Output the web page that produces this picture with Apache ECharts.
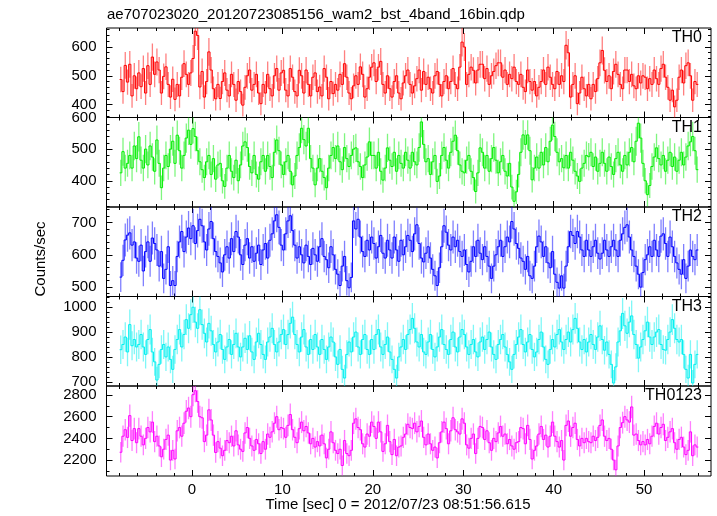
<!DOCTYPE html>
<html>
<head>
<meta charset="utf-8">
<script src="https://cdn.jsdelivr.net/npm/echarts@6/dist/echarts.min.js"></script>
<style>html,body{margin:0;padding:0;background:#fff}#c{width:717px;height:516px}</style>
</head>
<body>
<div id="c"></div>
<script>
// ---- data (counts/sec, 0.25 s bins starting at t = -8 s) ----
const tStart = -8;
const binWidth = 0.25;
const panelNames = ["TH0", "TH1", "TH2", "TH3", "TH0123"];
const titleText = "ae707023020_20120723085156_wam2_bst_4band_16bin.qdp";
const xTitle = "Time [sec] 0 = 2012/07/23 08:51:56.615";
const yTitle = "Counts/sec";

const th0 = [
487,445,536,478,540,430,500,455, 510,462,525,440,535,470,565,505,
548,520,440,498,531,470,426,488, 418,470,430,495,542,505,470,510,
560,655,640,461,515,426,480,583, 520,455,420,470,421,480,510,450,
430,505,470,415,480,445,398,460, 500,520,450,470,505,440,403,470,
440,505,455,430,500,525,450,510, 519,450,430,525,495,445,430,519,
500,440,520,470,430,495,510,445, 461,430,525,495,420,480,438,470,
450,505,470,542,495,440,420,465, 500,470,531,505,426,455,495,530,
545,480,530,550,470,440,500,455, 426,480,500,440,420,475,500,520,
470,440,465,490,520,450,515,470, 495,455,440,500,515,470,430,480,
500,455,480,525,470,455,530,617, 600,470,505,530,519,475,520,540,
540,490,525,470,500,515,535,545, 545,495,520,470,505,490,530,480,
470,505,460,445,520,480,450,480, 430,460,480,520,470,530,495,470,
455,515,470,500,480,606,580,426, 470,500,403,440,495,455,430,470,
420,470,445,490,545,588,519,480, 500,455,515,540,505,470,455,520,
520,480,505,465,455,500,475,500, 495,455,490,470,520,490,470,525,
540,495,460,415,450,392,415,495, 520,475,535,545,500,415,480,470];

const th1 = [
425,492,440,455,480,440,510,470, 539,465,440,500,450,510,475,430,
529,455,378,440,480,445,500,525, 455,544,495,440,480,535,560,515,
565,540,495,460,435,410,460,480, 420,470,405,450,455,400,382,440,
480,430,410,465,400,450,510,523, 505,445,425,480,420,405,460,480,
430,480,445,410,490,529,495,450, 420,460,480,430,387,415,480,505,
566,530,510,566,470,440,387,440, 470,430,410,378,440,480,505,470,
510,460,435,505,470,445,480,500, 504,460,445,410,450,475,523,480,
480,440,490,430,402,440,504,465, 445,490,430,480,455,440,490,465,
440,490,460,450,505,586,515,460, 470,420,460,480,398,415,480,505,
465,440,490,525,544,495,450,430, 425,465,480,430,410,366,425,504,
490,440,480,430,470,505,465,425, 460,480,430,415,455,380,335,365,
420,490,545,515,545,495,403,440, 475,440,490,450,505,460,525,576,
540,490,460,470,441,480,440,490, 465,430,415,398,440,455,480,476,
490,445,475,430,455,490,455,430, 475,445,420,470,490,450,430,480,
450,490,505,460,525,582,535,455, 400,356,385,445,475,504,470,450,
480,430,465,490,445,475,430,465, 490,450,475,510,523,540,495,435];

const th2 = [
531,583,646,661,668,630,640,590, 580,630,550,610,640,580,652,635,
615,565,610,527,555,625,505,520, 505,595,640,672,610,655,683,650,
690,635,675,710,690,640,615,680, 703,650,610,595,575,547,600,625,
590,650,610,672,655,600,570,630, 650,590,625,580,605,630,570,615,
635,590,645,665,705,724,685,630, 615,665,705,721,675,630,590,625,
600,575,630,595,570,620,600,580, 625,650,595,585,560,625,600,555,
540,505,565,595,520,498,530,705, 680,710,655,610,595,645,615,655,
635,590,625,660,605,590,645,615, 590,655,615,580,645,600,625,660,
645,610,665,693,635,590,578,605, 625,590,555,535,505,560,625,690,
670,630,615,655,625,645,610,595, 615,570,547,580,625,595,645,605,
585,625,595,565,527,565,600,625, 645,595,625,655,640,703,680,635,
620,590,580,555,595,535,527,565, 625,658,640,595,625,575,560,610,
540,515,497,535,497,565,625,672, 660,635,672,655,615,595,645,615,
595,625,645,605,587,605,645,615, 595,625,645,615,595,645,665,685,
693,655,615,595,565,540,500,545, 585,600,625,595,645,615,595,658,
665,635,595,655,625,595,575,555, 540,585,527,565,615,595,585,615];

const th3 = [
829,850,880,820,930,845,870,840, 850,890,840,810,870,910,820,780,
707,770,830,850,800,840,790,750, 830,870,910,840,890,950,915,970,
1000,940,915,990,930,895,860,935, 905,850,820,860,890,830,790,840,
870,810,850,895,840,800,840,875, 830,885,820,790,860,895,850,810,
790,860,880,915,850,820,860,890, 910,850,890,935,960,890,850,820,
880,910,840,810,870,830,890,840, 810,870,830,790,840,880,860,800,
770,830,750,715,810,860,820,880, 900,840,810,870,890,830,810,870,
830,890,910,840,810,850,880,820, 790,750,715,800,840,870,830,890,
910,955,915,860,840,890,820,810, 860,890,830,800,840,880,910,850,
830,810,870,900,840,820,880,910, 890,840,810,850,870,820,800,860,
880,830,870,900,840,810,790,850, 870,890,840,810,780,750,810,850,
880,910,850,820,860,890,830,800, 820,870,900,840,790,770,830,870,
840,890,910,860,830,870,900,860, 910,955,915,860,830,870,820,860,
890,850,830,880,925,870,827,860, 810,770,695,760,860,905,975,925,
895,940,965,890,850,795,840,870, 905,940,880,850,880,900,910,850,
830,827,870,900,950,915,870,860, 870,810,750,715,810,695,770,810];

const th0123 = [
2272,2420,2480,2409,2610,2380,2490,2360, 2490,2420,2340,2400,2500,2460,2550,2370,
2420,2330,2230,2300,2390,2430,2200,2290, 2210,2470,2500,2420,2540,2650,2680,2600,
2803,2840,2740,2600,2590,2370,2430,2663, 2570,2430,2270,2370,2310,2240,2290,2380,
2360,2420,2330,2470,2340,2300,2280,2450, 2500,2400,2330,2290,2390,2350,2260,2370,
2300,2440,2410,2460,2540,2600,2480,2500, 2490,2410,2520,2620,2480,2410,2360,2490,
2550,2470,2510,2450,2350,2400,2320,2370, 2330,2430,2350,2220,2300,2460,2360,2290,
2260,2300,2150,2380,2260,2240,2290,2540, 2580,2500,2480,2350,2320,2440,2420,2550,
2510,2400,2550,2460,2280,2350,2520,2370, 2250,2390,2240,2320,2330,2410,2440,2530,
2500,2490,2540,2460,2510,2560,2410,2340, 2440,2350,2290,2320,2220,2360,2460,2550,
2490,2350,2470,2590,2480,2460,2440,2580, 2540,2340,2310,2400,2440,2260,2400,2510,
2500,2390,2470,2360,2290,2400,2370,2450, 2510,2420,2440,2350,2390,2330,2300,2360,
2370,2500,2490,2350,2520,2390,2210,2290, 2330,2440,2510,2390,2430,2320,2420,2550,
2420,2370,2320,2380,2200,2520,2560,2420, 2500,2540,2390,2330,2400,2360,2400,2370,
2360,2420,2380,2410,2520,2570,2420,2380, 2400,2300,2200,2110,2330,2500,2545,2600,
2570,2550,2690,2430,2440,2380,2340,2370, 2340,2390,2350,2420,2510,2540,2440,2500,
2530,2380,2410,2460,2490,2360,2300,2390, 2410,2320,2250,2290,2460,2240,2340,2320];

const xMajorTicks = [0, 10, 20, 30, 40, 50];
const yMajorTicks = [[400,500,600],[400,500,600],[500,600,700],[700,800,900,1000],[2200,2400,2600,2800]];
const yRanges = [[355,666],[317,600],[471,748],[683,1043],[2053,2883]];
const yMinorStep = [20,20,20,20,100];
const xRange = [-9.45, 57.4];
const xMinorStep = 2;

// ---- layout / style ----
const colors = ['#ff0000','#00ee00','#0000ff','#00f0f0','#ff00ff'];
const series = [th0, th1, th2, th3, th0123];
const tops = [28, 117.5, 207, 296.5, 386];
const bottomEdge = 476;
const leftPx = 106.5, rightPx = 6;
const FONT = '"Liberation Sans", Arial, Helvetica, sans-serif';

function range(a, b, step) { const r = []; for (let v = a; v <= b + 1e-9; v += step) r.push(+v.toFixed(6)); return r; }
const plain = v => String(Math.round(v));

const grids = [], xAxes = [], yAxes = [], seriesOpts = [], graphics = [];
const xMinor = range(-8, 56, xMinorStep).filter(v => xMajorTicks.indexOf(v) < 0);

for (let p = 0; p < 5; p++) {
  const h = (p < 4 ? tops[p+1] : bottomEdge) - tops[p];
  grids.push({ left: leftPx, right: rightPx, top: tops[p], height: h, show: true, borderColor: '#000', borderWidth: 1, backgroundColor: 'transparent' });
  const xi0 = xAxes.length;
  const isLast = p === 4;
  const mkX = (pos, vals, len, labels) => ({
    type: 'value', gridIndex: p, position: pos, min: xRange[0], max: xRange[1],
    axisLine: { show: false, onZero: false }, splitLine: { show: false },
    axisTick: { show: true, inside: true, length: len, customValues: vals, lineStyle: { color: '#000', width: 1 } },
    axisLabel: labels ? { show: true, customValues: xMajorTicks, formatter: plain, color: '#000', fontSize: 15, fontFamily: FONT, margin: 6 } : { show: false }
  });
  xAxes.push(mkX('bottom', xMajorTicks, 6, isLast));
  xAxes.push(mkX('bottom', xMinor, 3, false));
  xAxes.push(mkX('top', xMajorTicks, 6, false));
  xAxes.push(mkX('top', xMinor, 3, false));

  const yi0 = yAxes.length;
  const [ymin, ymax] = yRanges[p];
  const yMinor = range(Math.ceil(ymin / yMinorStep[p]) * yMinorStep[p], ymax, yMinorStep[p]).filter(v => yMajorTicks[p].indexOf(v) < 0);
  const mkY = (pos, vals, len, labels) => ({
    type: 'value', gridIndex: p, position: pos, min: ymin, max: ymax,
    axisLine: { show: false, onZero: false }, splitLine: { show: false },
    axisTick: { show: true, inside: true, length: len, customValues: vals, lineStyle: { color: '#000', width: 1 } },
    axisLabel: labels ? { show: true, customValues: yMajorTicks[p], formatter: plain, color: '#000', fontSize: 15, fontFamily: FONT, margin: 10 } : { show: false }
  });
  yAxes.push(mkY('left', yMajorTicks[p], 6, true));
  yAxes.push(mkY('left', yMinor, 3, false));
  yAxes.push(mkY('right', yMajorTicks[p], 6, false));
  yAxes.push(mkY('right', yMinor, 3, false));

  const vals = series[p];
  const data = vals.map((v, i) => [tStart + binWidth * (i + 0.5), v, Math.sqrt(v / binWidth)]);
  const col = colors[p];
  seriesOpts.push({
    type: 'custom', xAxisIndex: xi0, yAxisIndex: yi0, clip: true,
    dimensions: ['t', 'rate', 'err'], encode: { x: 0, y: 1 },
    data: data,
    renderItem: function (params, api) {
      const i = params.dataIndex;
      const x = api.value(0), y = api.value(1), e = api.value(2);
      const a = api.coord([x - binWidth / 2, y]), b = api.coord([x + binWidth / 2, y]);
      const t = api.coord([x, y + e]), d = api.coord([x, y - e]);
      const kids = [
        { type: 'line', shape: { x1: t[0], y1: t[1], x2: d[0], y2: d[1] }, style: { stroke: col, lineWidth: 1.3, opacity: 0.5 } },
        { type: 'line', shape: { x1: a[0], y1: a[1], x2: b[0], y2: b[1] }, style: { stroke: col, lineWidth: 1 } }
      ];
      if (i > 0) {
        const pv = api.coord([x - binWidth / 2, vals[i - 1]]);
        kids.push({ type: 'line', shape: { x1: pv[0], y1: pv[1], x2: a[0], y2: a[1] }, style: { stroke: col, lineWidth: 1 } });
      }
      return { type: 'group', children: kids };
    }
  });
  graphics.push({ type: 'text', x: 702, y: tops[p] + 10, style: { text: panelNames[p], fill: '#000', font: '16px ' + FONT, textAlign: 'right', textVerticalAlign: 'middle' }, z: 100 });
}

graphics.push({ type: 'text', x: 107, y: 15, style: { text: titleText, fill: '#000', font: '15px ' + FONT, textAlign: 'left', textVerticalAlign: 'middle' } });
graphics.push({ type: 'text', x: 41, y: 259, rotation: Math.PI / 2, style: { text: yTitle, fill: '#000', font: '15px ' + FONT, textAlign: 'center', textVerticalAlign: 'middle' } });
graphics.push({ type: 'text', x: 398, y: 505, style: { text: xTitle, fill: '#000', font: '15px ' + FONT, textAlign: 'center', textVerticalAlign: 'middle' } });

const chart = echarts.init(document.getElementById('c'), null, { renderer: 'canvas' });
chart.setOption({
  animation: false, backgroundColor: '#fff',
  grid: grids, xAxis: xAxes, yAxis: yAxes, series: seriesOpts, graphic: graphics
});
</script>
</body>
</html>
